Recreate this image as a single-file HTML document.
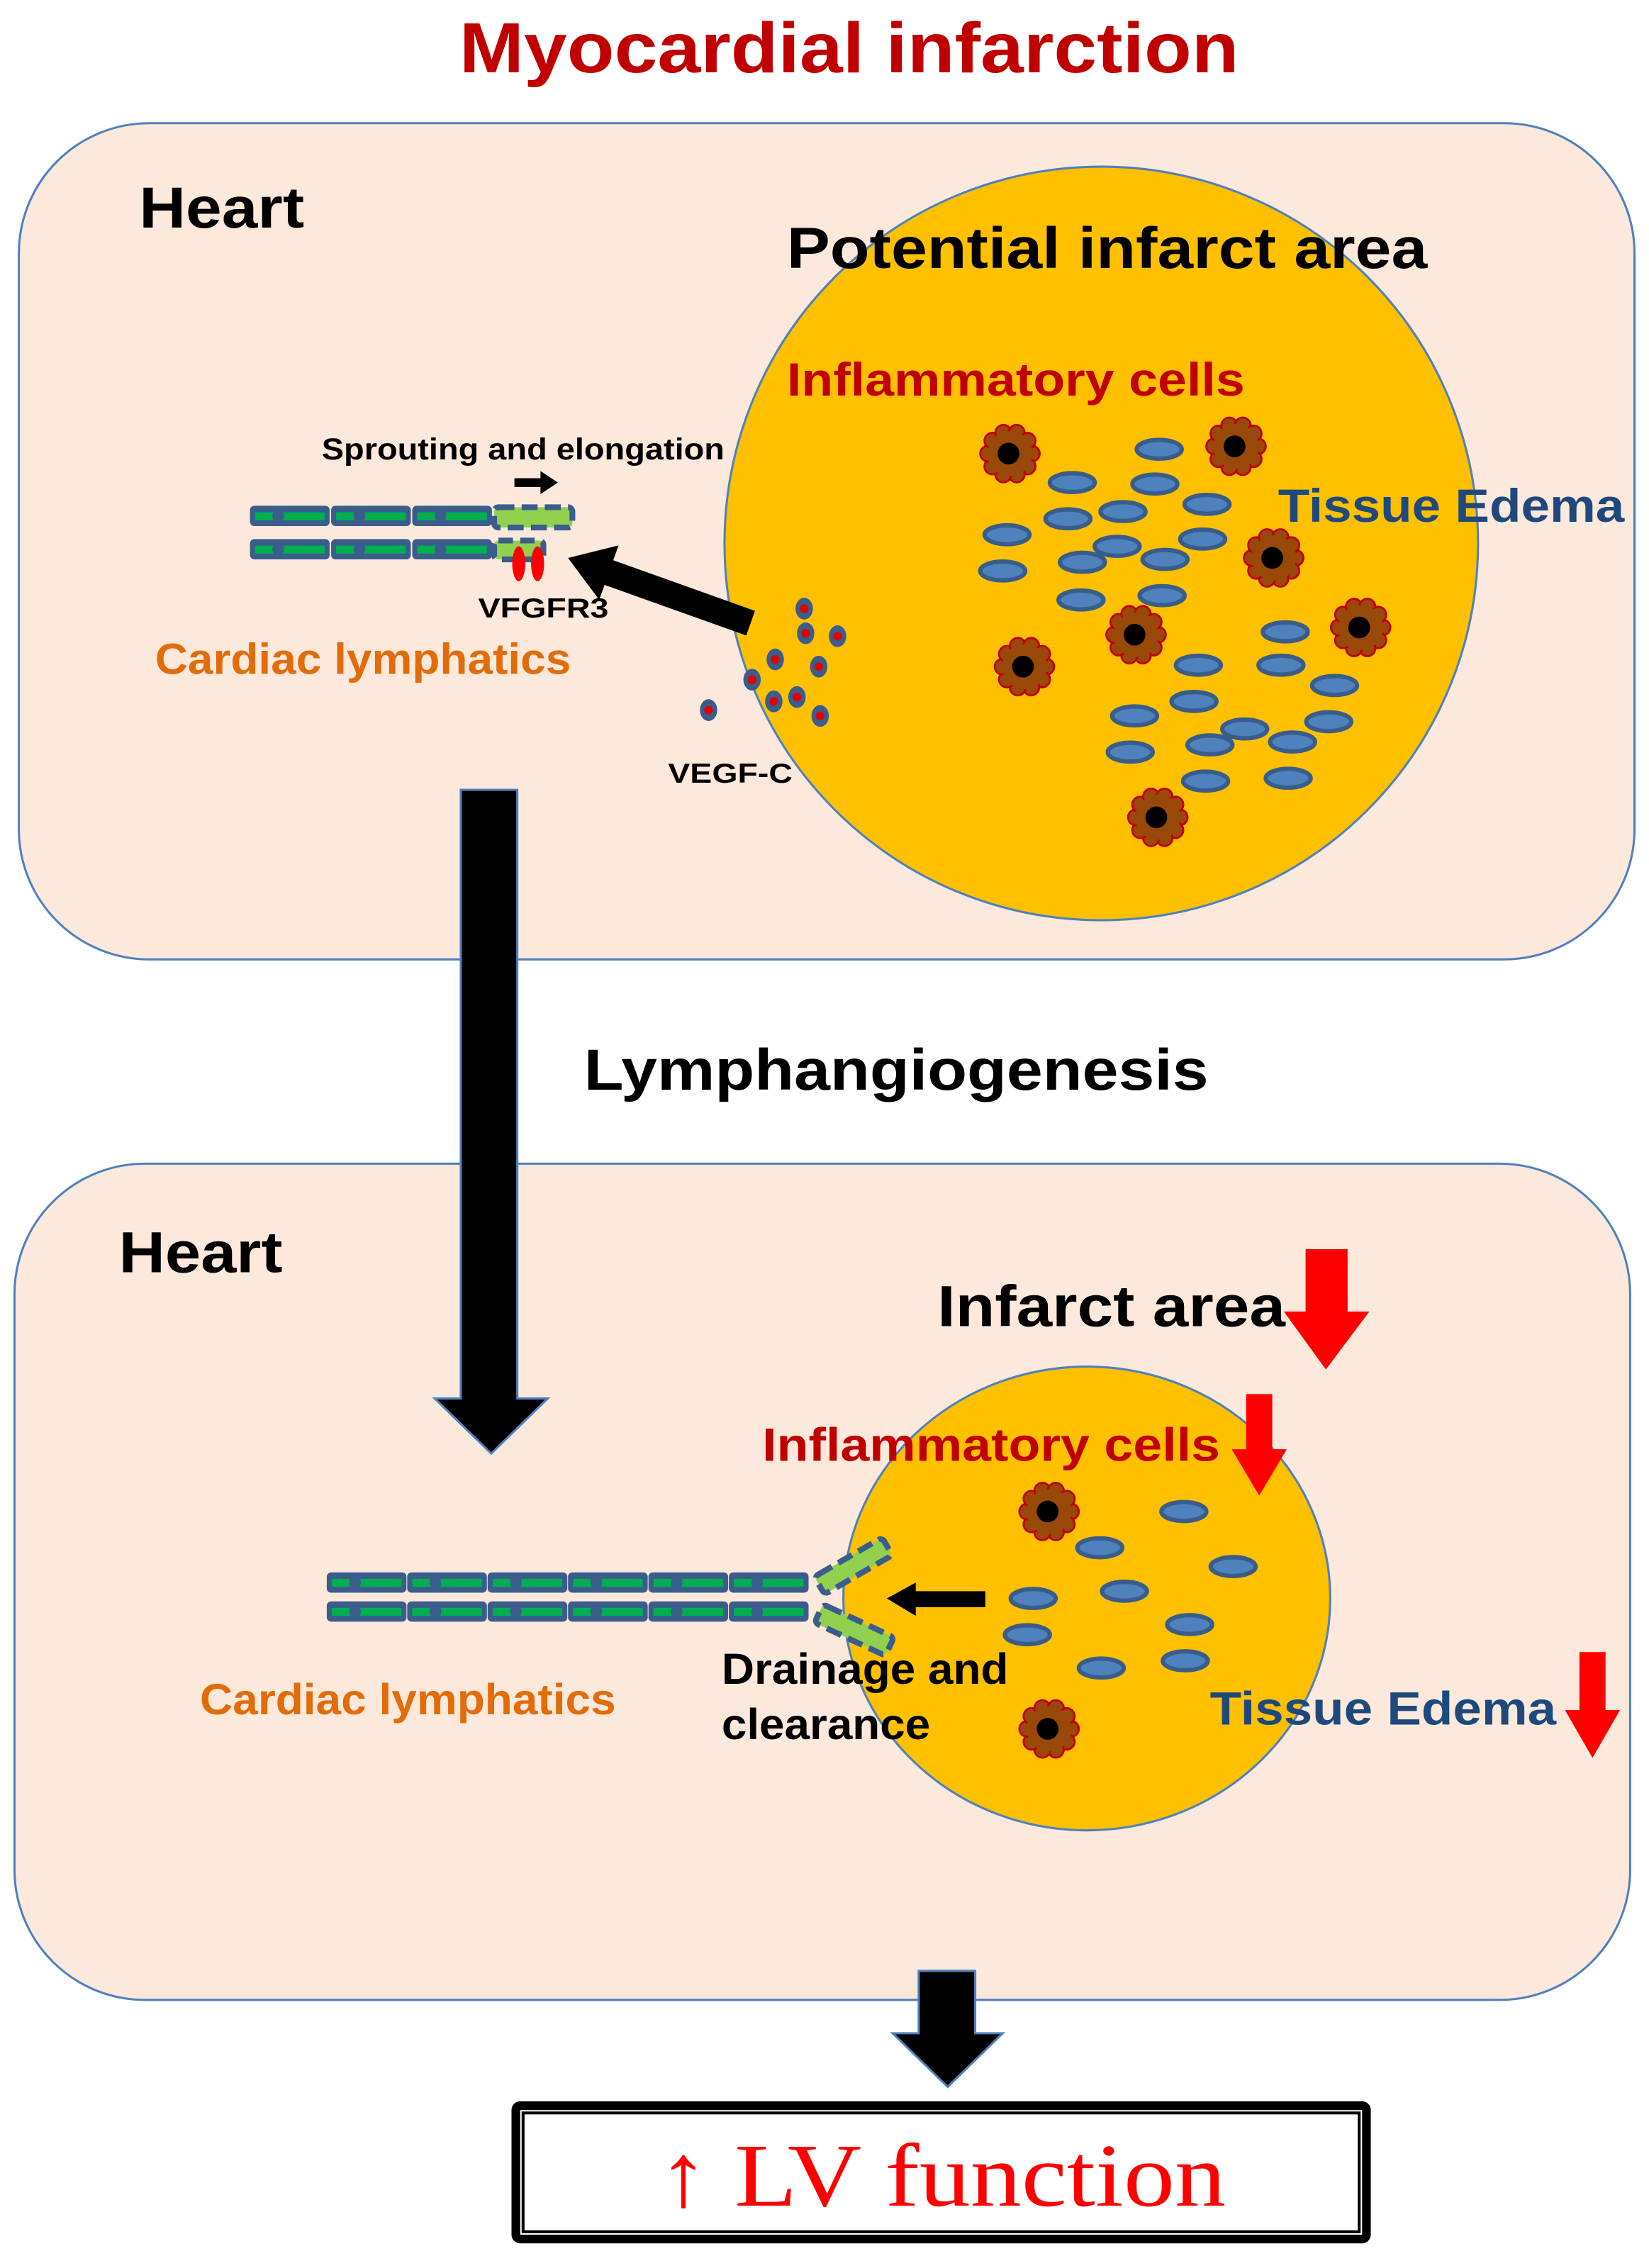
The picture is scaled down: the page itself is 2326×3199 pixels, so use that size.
<!DOCTYPE html>
<html><head><meta charset="utf-8"><style>
html,body{margin:0;padding:0;background:#fff;}
svg{display:block;}
text{font-family:"Liberation Sans",Arial,sans-serif;font-weight:bold;}
</style></head><body>
<svg width="2326" height="3199" viewBox="0 0 1138 1565" preserveAspectRatio="none" xmlns="http://www.w3.org/2000/svg">
<defs>
<g id="ov"><ellipse cx="0" cy="0" rx="15.5" ry="6.5" fill="#4f81bd" stroke="#385d8a" stroke-width="3"/></g>
<g id="cell">
<g fill="#984807" stroke="#c00000" stroke-width="1.4">
<circle cx="15" cy="0" r="5.5"/><circle cx="12.1" cy="8.8" r="5.5"/><circle cx="4.6" cy="14.3" r="5.5"/><circle cx="-4.6" cy="14.3" r="5.5"/><circle cx="-12.1" cy="8.8" r="5.5"/><circle cx="-15" cy="0" r="5.5"/><circle cx="-12.1" cy="-8.8" r="5.5"/><circle cx="-4.6" cy="-14.3" r="5.5"/><circle cx="4.6" cy="-14.3" r="5.5"/><circle cx="12.1" cy="-8.8" r="5.5"/>
</g>
<circle cx="0" cy="0" r="15.5" fill="#984807"/>
<circle cx="-1" cy="0" r="7.5" fill="#000"/>
</g>
<g id="seg"><rect x="0.5" y="0" width="55" height="14" rx="3" fill="#3a5d8c"/><rect x="4" y="4.5" width="48" height="5.5" fill="#00b050"/><ellipse cx="20" cy="7" rx="4" ry="5" fill="#3a5d8c"/></g>
<g id="sprout"><rect x="0" y="0" width="54" height="14" rx="3" fill="#92d050" stroke="#3a5d8c" stroke-width="4" stroke-dasharray="11 5"/></g>
<g id="vd"><ellipse cx="0" cy="0" rx="6" ry="7.5" fill="#3a5d8c"/><circle cx="0" cy="0" r="3" fill="#e00000"/></g>
</defs>

<rect width="1138" height="1565" fill="#fff"/>
<text x="586" y="50" font-size="49" fill="#c00000" text-anchor="middle" textLength="538" lengthAdjust="spacingAndGlyphs">Myocardial infarction</text>

<!-- Panel 1 -->
<rect x="13" y="85" width="1115" height="577" rx="90" fill="#fde9db" stroke="#4f81bd" stroke-width="1.5"/>
<circle cx="760" cy="375" r="260" fill="#ffc000" stroke="#4f81bd" stroke-width="1.5"/>
<text x="96" y="157" font-size="40" fill="#000" textLength="114" lengthAdjust="spacingAndGlyphs">Heart</text>
<text x="543" y="185" font-size="40" fill="#000" textLength="442" lengthAdjust="spacingAndGlyphs">Potential infarct area</text>
<text x="543" y="273" font-size="32" fill="#c00000" textLength="316" lengthAdjust="spacingAndGlyphs">Inflammatory cells</text>
<text x="882" y="360" font-size="32" fill="#1f497d" textLength="239" lengthAdjust="spacingAndGlyphs">Tissue Edema</text>
<text x="222" y="317" font-size="21" fill="#000" textLength="278" lengthAdjust="spacingAndGlyphs">Sprouting and elongation</text>
<polygon points="355,330 373,330 373,325 385,333 373,341 373,336 355,336" fill="#000"/>
<use href="#seg" x="172" y="349"/><use href="#seg" x="228" y="349"/><use href="#seg" x="284" y="349"/>
<use href="#seg" x="172" y="372"/><use href="#seg" x="228" y="372"/><use href="#seg" x="284" y="372"/>
<use href="#sprout" x="341" y="350"/>
<rect x="341" y="373" width="34" height="13" rx="3" fill="#92d050" stroke="#3a5d8c" stroke-width="4" stroke-dasharray="10 5"/>
<ellipse cx="358" cy="389" rx="4.5" ry="12" fill="#ff0000"/>
<ellipse cx="371" cy="389" rx="4.5" ry="12" fill="#ff0000"/>
<text x="330" y="426" font-size="19" fill="#000" textLength="90" lengthAdjust="spacingAndGlyphs">VFGFR3</text>
<polygon points="521,421.5 423.2,386.6 426.9,376.3 392,385 413.5,413.9 417.2,403.6 515,438.5" fill="#000"/>
<text x="107" y="465" font-size="30" fill="#e36c0a" textLength="287" lengthAdjust="spacingAndGlyphs">Cardiac lymphatics</text>
<use href="#vd" x="555" y="420"/><use href="#vd" x="556" y="437"/><use href="#vd" x="578" y="439"/><use href="#vd" x="535" y="455"/><use href="#vd" x="565" y="460"/><use href="#vd" x="519" y="469"/><use href="#vd" x="550" y="481"/><use href="#vd" x="534" y="484"/><use href="#vd" x="566" y="494"/><use href="#vd" x="489" y="490"/>
<text x="461" y="540" font-size="19" fill="#000" textLength="86" lengthAdjust="spacingAndGlyphs">VEGF-C</text>
<g>
<use href="#ov" x="800" y="310"/><use href="#ov" x="740" y="333"/><use href="#ov" x="797" y="334"/><use href="#ov" x="775" y="353"/><use href="#ov" x="833" y="348"/><use href="#ov" x="737" y="358"/><use href="#ov" x="695" y="369"/><use href="#ov" x="771" y="377"/><use href="#ov" x="747" y="388"/><use href="#ov" x="804" y="386"/><use href="#ov" x="830" y="372"/><use href="#ov" x="692" y="394"/><use href="#ov" x="746" y="414"/><use href="#ov" x="802" y="411"/><use href="#ov" x="887" y="436"/><use href="#ov" x="827" y="459"/><use href="#ov" x="884" y="459"/><use href="#ov" x="921" y="473"/><use href="#ov" x="783" y="494"/><use href="#ov" x="824" y="484"/><use href="#ov" x="859" y="503"/><use href="#ov" x="917" y="498"/><use href="#ov" x="780" y="519"/><use href="#ov" x="835" y="514"/><use href="#ov" x="892" y="512"/><use href="#ov" x="832" y="539"/><use href="#ov" x="889" y="537"/>
</g>
<use href="#cell" x="697" y="313"/><use href="#cell" x="853" y="308"/><use href="#cell" x="879" y="385"/><use href="#cell" x="784" y="438"/><use href="#cell" x="707" y="460"/><use href="#cell" x="939" y="433"/><use href="#cell" x="799" y="564"/>

<text x="403" y="752" font-size="40" fill="#000" textLength="431" lengthAdjust="spacingAndGlyphs">Lymphangiogenesis</text>

<!-- Panel 2 -->
<rect x="10" y="803" width="1115" height="577" rx="90" fill="#fde9db" stroke="#4f81bd" stroke-width="1.5"/>
<!-- Big down arrow (over both panels) -->
<polygon points="318,545 357,545 357,965 378,965 339,1003 300,965 318,965" fill="#000" stroke="#4f81bd" stroke-width="1.5"/>
<ellipse cx="750" cy="1103" rx="168" ry="160" fill="#ffc000" stroke="#4f81bd" stroke-width="1.5"/>
<text x="82" y="878" font-size="40" fill="#000" textLength="113" lengthAdjust="spacingAndGlyphs">Heart</text>
<text x="647" y="915" font-size="40" fill="#000" textLength="240" lengthAdjust="spacingAndGlyphs">Infarct area</text>
<polygon points="901,862 930,862 930,905 945,905 915,945 886,905 901,905" fill="#ff0000"/>
<text x="526" y="1008" font-size="32" fill="#c00000" textLength="316" lengthAdjust="spacingAndGlyphs">Inflammatory cells</text>
<polygon points="860,962 878,962 878,1000 888,1000 869,1032 850,1000 860,1000" fill="#ff0000"/>
<use href="#seg" x="225" y="1085"/><use href="#seg" x="280.5" y="1085"/><use href="#seg" x="336" y="1085"/><use href="#seg" x="391.5" y="1085"/><use href="#seg" x="447" y="1085"/><use href="#seg" x="502.5" y="1085"/>
<use href="#seg" x="225" y="1105"/><use href="#seg" x="280.5" y="1105"/><use href="#seg" x="336" y="1105"/><use href="#seg" x="391.5" y="1105"/><use href="#seg" x="447" y="1105"/><use href="#seg" x="502.5" y="1105"/>
<use href="#sprout" transform="translate(562,1088) rotate(-30)"/>
<use href="#sprout" transform="translate(568,1107) rotate(25)"/>
<polygon points="680,1098 632,1098 632,1092 612,1103 632,1115 632,1109 680,1109" fill="#000"/>
<use href="#ov" x="759" y="1068"/><use href="#ov" x="817" y="1043"/><use href="#ov" x="851" y="1081"/><use href="#ov" x="713" y="1103"/><use href="#ov" x="776" y="1098"/><use href="#ov" x="709" y="1128"/><use href="#ov" x="821" y="1121"/><use href="#ov" x="818" y="1146"/><use href="#ov" x="760" y="1151"/>
<use href="#cell" x="724" y="1043"/><use href="#cell" x="724" y="1193"/>
<text x="498" y="1162" font-size="30" fill="#000" textLength="198" lengthAdjust="spacingAndGlyphs">Drainage and</text>
<text x="498" y="1200" font-size="30" fill="#000" textLength="144" lengthAdjust="spacingAndGlyphs">clearance</text>
<text x="138" y="1183" font-size="30" fill="#e36c0a" textLength="287" lengthAdjust="spacingAndGlyphs">Cardiac lymphatics</text>
<text x="835" y="1190" font-size="32" fill="#1f497d" textLength="239" lengthAdjust="spacingAndGlyphs">Tissue Edema</text>
<polygon points="1090,1140 1108,1140 1108,1180 1118,1180 1099,1213 1080,1180 1090,1180" fill="#ff0000"/>

<!-- bottom arrow -->
<polygon points="634,1360 673,1360 673,1403 692,1403 654,1440 616,1403 634,1403" fill="#000" stroke="#4f81bd" stroke-width="1.5"/>
<rect x="356" y="1453" width="587" height="92" rx="3" fill="#fff" stroke="#000" stroke-width="6"/>
<rect x="361" y="1458" width="577" height="82" fill="none" stroke="#000" stroke-width="2"/>
<text x="650" y="1522" font-size="62" fill="#ff0000" text-anchor="middle" style="font-family:'Liberation Serif',serif;font-weight:normal" textLength="392" lengthAdjust="spacingAndGlyphs">↑ LV function</text>
</svg>
</body></html>
